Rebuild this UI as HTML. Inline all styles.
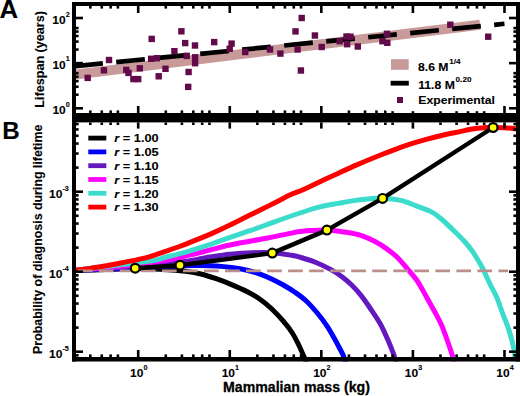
<!DOCTYPE html><html><head><meta charset="utf-8"><style>html,body{margin:0;padding:0;background:#fff;}body{width:520px;height:396px;overflow:hidden;position:relative;font-family:"Liberation Sans", sans-serif;}</style></head><body><svg width="520" height="396" viewBox="0 0 520 396" style="position:absolute;left:0;top:0">
<defs><clipPath id="ca"><rect x="76" y="6" width="440" height="107"/></clipPath><clipPath id="cb"><rect x="76" y="122" width="441" height="239.5"/></clipPath></defs>
<g clip-path="url(#ca)"><line x1="74.2" y1="74.7" x2="480" y2="24.67" stroke="#c99a9a" stroke-width="10"/>
<line x1="74.2" y1="66.22" x2="504.48" y2="23.78" stroke="#000" stroke-width="4.7" stroke-dasharray="28.8 13.4"/>
<rect x="84.5" y="74.7" width="6.4" height="6.4" fill="#620a4a"/>
<rect x="100.7" y="67.1" width="6.4" height="6.4" fill="#620a4a"/>
<rect x="105.8" y="56.8" width="6.4" height="6.4" fill="#620a4a"/>
<rect x="123.1" y="66.7" width="6.4" height="6.4" fill="#620a4a"/>
<rect x="125.3" y="69.7" width="6.4" height="6.4" fill="#620a4a"/>
<rect x="130.2" y="75.9" width="6.4" height="6.4" fill="#620a4a"/>
<rect x="135" y="75.9" width="6.4" height="6.4" fill="#620a4a"/>
<rect x="136.6" y="65.1" width="6.4" height="6.4" fill="#620a4a"/>
<rect x="148.5" y="35.7" width="6.4" height="6.4" fill="#620a4a"/>
<rect x="148" y="55.6" width="6.4" height="6.4" fill="#620a4a"/>
<rect x="153.6" y="55" width="6.4" height="6.4" fill="#620a4a"/>
<rect x="155.5" y="73.1" width="6.4" height="6.4" fill="#620a4a"/>
<rect x="162.3" y="65.6" width="6.4" height="6.4" fill="#620a4a"/>
<rect x="171.2" y="48" width="6.4" height="6.4" fill="#620a4a"/>
<rect x="178.2" y="28.1" width="6.4" height="6.4" fill="#620a4a"/>
<rect x="182" y="39.9" width="6.4" height="6.4" fill="#620a4a"/>
<rect x="183.5" y="52.7" width="6.4" height="6.4" fill="#620a4a"/>
<rect x="185.4" y="68.8" width="6.4" height="6.4" fill="#620a4a"/>
<rect x="185" y="83.7" width="6.4" height="6.4" fill="#620a4a"/>
<rect x="191.8" y="42.3" width="6.4" height="6.4" fill="#620a4a"/>
<rect x="191.9" y="54.1" width="6.4" height="6.4" fill="#620a4a"/>
<rect x="191.9" y="60" width="6.4" height="6.4" fill="#620a4a"/>
<rect x="211" y="38.9" width="6.4" height="6.4" fill="#620a4a"/>
<rect x="228.4" y="40.4" width="6.4" height="6.4" fill="#620a4a"/>
<rect x="226.5" y="45.6" width="6.4" height="6.4" fill="#620a4a"/>
<rect x="242" y="48.8" width="6.4" height="6.4" fill="#620a4a"/>
<rect x="266.8" y="46.3" width="6.4" height="6.4" fill="#620a4a"/>
<rect x="277.2" y="50.4" width="6.4" height="6.4" fill="#620a4a"/>
<rect x="292.3" y="28.2" width="6.4" height="6.4" fill="#620a4a"/>
<rect x="294.4" y="46.3" width="6.4" height="6.4" fill="#620a4a"/>
<rect x="297.7" y="67.3" width="6.4" height="6.4" fill="#620a4a"/>
<rect x="298.5" y="14.8" width="6.4" height="6.4" fill="#620a4a"/>
<rect x="311.7" y="32.3" width="6.4" height="6.4" fill="#620a4a"/>
<rect x="318.5" y="43.8" width="6.4" height="6.4" fill="#620a4a"/>
<rect x="336.5" y="38" width="6.4" height="6.4" fill="#620a4a"/>
<rect x="343.3" y="33.3" width="6.4" height="6.4" fill="#620a4a"/>
<rect x="347.3" y="33.5" width="6.4" height="6.4" fill="#620a4a"/>
<rect x="343.9" y="41" width="6.4" height="6.4" fill="#620a4a"/>
<rect x="354.6" y="43.3" width="6.4" height="6.4" fill="#620a4a"/>
<rect x="379.2" y="38" width="6.4" height="6.4" fill="#620a4a"/>
<rect x="383.8" y="30.6" width="6.4" height="6.4" fill="#620a4a"/>
<rect x="384.1" y="39.6" width="6.4" height="6.4" fill="#620a4a"/>
<rect x="447.1" y="21.5" width="6.4" height="6.4" fill="#620a4a"/>
<rect x="485" y="33.5" width="6.4" height="6.4" fill="#620a4a"/>
</g>
<g clip-path="url(#cb)">
<path d="M70,270.5 C75,270.38 91.67,270.05 100,269.8 C108.33,269.55 114.13,269.23 120,269 C125.87,268.77 128.53,268.37 135.2,268.4 C141.87,268.43 151.63,268.73 160,269.2 C168.37,269.67 178.6,270.4 185.4,271.2 C192.2,272 195.67,272.75 200.8,274 C205.93,275.25 211.08,276.93 216.2,278.7 C221.32,280.47 226.38,282.47 231.5,284.6 C236.62,286.73 242.15,289.07 246.9,291.5 C251.65,293.93 255.88,296.32 260,299.2 C264.12,302.08 267.72,305.13 271.6,308.8 C275.48,312.47 279.9,317.25 283.3,321.2 C286.7,325.15 289.47,328.62 292,332.5 C294.53,336.38 296.47,340.38 298.5,344.5 C300.53,348.62 302.87,354.12 304.2,357.2 C305.53,360.28 306.12,362.03 306.5,363" fill="none" stroke="#000000" stroke-width="5" stroke-linejoin="round"/>
<path d="M70,270.5 C76.67,270.25 99.17,269.45 110,269 C120.83,268.55 126.67,268.22 135,267.8 C143.33,267.38 152.5,266.85 160,266.5 C167.5,266.15 173.2,265.85 180,265.7 C186.8,265.55 194.77,265.53 200.8,265.6 C206.83,265.67 211.08,265.77 216.2,266.1 C221.32,266.43 226.38,266.92 231.5,267.6 C236.62,268.28 242.15,269.12 246.9,270.2 C251.65,271.28 255.88,272.63 260,274.1 C264.12,275.57 267.72,277.18 271.6,279 C275.48,280.82 279.42,282.8 283.3,285 C287.18,287.2 291.03,289.5 294.9,292.2 C298.77,294.9 302.63,297.57 306.5,301.2 C310.37,304.83 314.62,309.77 318.1,314 C321.58,318.23 324.68,322.5 327.4,326.6 C330.12,330.7 332.3,334.87 334.4,338.6 C336.5,342.33 338.48,346.1 340,349 C341.52,351.9 342.58,353.67 343.5,356 C344.42,358.33 345.17,361.83 345.5,363" fill="none" stroke="#0000ff" stroke-width="5" stroke-linejoin="round"/>
<path d="M70,270.5 C76.67,270.12 99,268.98 110,268.2 C121,267.42 126.83,266.62 136,265.8 C145.17,264.98 157.67,263.93 165,263.3 C172.33,262.67 174.8,262.62 180,262 C185.2,261.38 190.95,260.47 196.2,259.6 C201.45,258.73 205.87,257.7 211.5,256.8 C217.13,255.9 223.08,254.88 230,254.2 C236.92,253.52 245.95,252.93 253,252.7 C260.05,252.47 265.88,252.37 272.3,252.8 C278.72,253.23 286.88,254.57 291.5,255.3 C296.12,256.03 296.02,256.05 300,257.2 C303.98,258.35 310.32,260.17 315.4,262.2 C320.48,264.23 326.18,267.05 330.5,269.4 C334.82,271.75 337.82,273.73 341.3,276.3 C344.78,278.87 348.08,281.58 351.4,284.8 C354.72,288.02 357.98,291.57 361.2,295.6 C364.42,299.63 367.53,304.32 370.7,309 C373.87,313.68 377.45,318.82 380.2,323.7 C382.95,328.58 384.88,333 387.2,338.3 C389.52,343.6 392.63,351.38 394.1,355.5 C395.57,359.62 395.68,361.75 396,363" fill="none" stroke="#6418c0" stroke-width="5" stroke-linejoin="round"/>
<path d="M70,270.5 C76.67,269.97 96.67,268.6 110,267.3 C123.33,266 140.77,263.88 150,262.7 C159.23,261.52 160.27,261.1 165.4,260.2 C170.53,259.3 175.67,258.42 180.8,257.3 C185.93,256.18 191.08,254.78 196.2,253.5 C201.32,252.22 205.87,251.02 211.5,249.6 C217.13,248.18 223.58,246.4 230,245 C236.42,243.6 243.33,242.45 250,241.2 C256.67,239.95 263.33,238.8 270,237.5 C276.67,236.2 285,234.38 290,233.4 C295,232.42 296.67,232.07 300,231.6 C303.33,231.13 305.52,230.87 310,230.6 C314.48,230.33 320.87,229.72 326.9,230 C332.93,230.28 340.43,231.37 346.2,232.3 C351.97,233.23 356.7,234.07 361.5,235.6 C366.3,237.13 370.85,239.33 375,241.5 C379.15,243.67 382.62,245.9 386.4,248.6 C390.18,251.3 394.17,254.28 397.7,257.7 C401.23,261.12 404.38,265.3 407.6,269.1 C410.82,272.9 413.9,275.95 417,280.5 C420.1,285.05 423.2,291.1 426.2,296.4 C429.2,301.7 432.45,307.53 435,312.3 C437.55,317.07 439.65,320.88 441.5,325 C443.35,329.12 444.33,332.05 446.1,337 C447.87,341.95 450.78,350.37 452.1,354.7 C453.42,359.03 453.68,361.62 454,363" fill="none" stroke="#ff00ff" stroke-width="5" stroke-linejoin="round"/>
<path d="M70,271 C76.67,270.17 96.67,267.65 110,266 C123.33,264.35 140.77,262.55 150,261.1 C159.23,259.65 160.27,258.58 165.4,257.3 C170.53,256.02 175.67,254.82 180.8,253.4 C185.93,251.98 191.08,250.36 196.2,248.8 C201.32,247.24 205.87,245.95 211.5,244.06 C217.13,242.16 223.58,239.65 230,237.43 C236.42,235.2 242.8,233.25 250,230.73 C257.2,228.21 264.87,225.26 273.2,222.3 C281.53,219.34 292.38,215.53 300,213 C307.62,210.47 312.58,208.7 318.9,207.1 C325.22,205.5 331.58,204.56 337.9,203.4 C344.22,202.24 350.48,200.99 356.8,200.13 C363.12,199.26 371.5,198.55 375.8,198.21 C380.1,197.87 378.43,197.73 382.6,198.1 C386.77,198.47 395.2,199.12 400.8,200.4 C406.4,201.68 411.08,203.88 416.2,205.8 C421.32,207.72 427.4,209.78 431.5,211.9 C435.6,214.02 436.85,215.15 440.8,218.5 C444.75,221.85 451.17,228.08 455.2,232 C459.23,235.92 462.17,238.83 465,242 C467.83,245.17 470.2,248.25 472.2,251 C474.2,253.75 475.42,255.92 477,258.5 C478.58,261.08 480.12,263.5 481.7,266.5 C483.28,269.5 485.03,273.42 486.5,276.5 C487.97,279.58 488.82,281.57 490.5,285 C492.18,288.43 494.58,292.38 496.6,297.1 C498.62,301.82 500.58,307.92 502.6,313.3 C504.62,318.68 507.02,324.35 508.7,329.4 C510.38,334.45 511.7,339.55 512.7,343.6 C513.7,347.65 514.23,350.47 514.7,353.7 C515.17,356.93 515.37,361.45 515.5,363" fill="none" stroke="#3cdccc" stroke-width="5" stroke-linejoin="round"/>
<path d="M70,271.5 C71,271.32 72.43,270.97 76,270.4 C79.57,269.83 86.27,268.88 91.4,268.1 C96.53,267.32 101.67,266.6 106.8,265.7 C111.93,264.8 117.08,263.71 122.2,262.69 C127.32,261.66 132.87,260.59 137.5,259.57 C142.13,258.55 145.35,257.91 150,256.56 C154.65,255.2 160.27,253.19 165.4,251.44 C170.53,249.68 175.67,247.94 180.8,246.02 C185.93,244.1 191.08,241.97 196.2,239.9 C201.32,237.84 205.87,236.09 211.5,233.61 C217.13,231.14 223.58,228.16 230,225.07 C236.42,221.99 243.3,218.42 250,215.09 C256.7,211.77 263.47,208.51 270.2,205.13 C276.93,201.75 285.43,197.16 290.4,194.8 C295.37,192.45 295.25,193.09 300,191 C304.75,188.91 312.58,185.18 318.9,182.26 C325.22,179.33 331.58,176.33 337.9,173.44 C344.22,170.54 349.78,167.93 356.8,164.9 C363.82,161.87 373.57,157.86 380,155.27 C386.43,152.67 390.27,151.2 395.4,149.32 C400.53,147.44 405.67,145.63 410.8,143.97 C415.93,142.31 421.08,140.79 426.2,139.37 C431.32,137.95 435.87,136.73 441.5,135.44 C447.13,134.15 455.12,132.62 460,131.6 C464.88,130.58 466.43,129.98 470.8,129.31 C475.17,128.65 482.48,127.93 486.2,127.61 C489.92,127.29 490.03,127.39 493.1,127.4 C496.17,127.42 500.45,127.43 504.6,127.7 C508.75,127.97 515.77,128.78 518,129" fill="none" stroke="#ff0000" stroke-width="5" stroke-linejoin="round"/>
<line x1="56.8" y1="270.9" x2="508" y2="270.9" stroke="#bb8f8a" stroke-width="2.6" stroke-dasharray="14.7 6.33"/>
<path d="M135.2,268.2 L180,265.2 L272.3,253.1 L326.9,230.1 L382.6,198.4 L493.1,127.5" fill="none" stroke="#000" stroke-width="4.4" stroke-linejoin="round"/>
<circle cx="135.2" cy="268.2" r="4.4" fill="#ffff00" stroke="#000" stroke-width="2.2"/>
<circle cx="180" cy="265.2" r="4.4" fill="#ffff00" stroke="#000" stroke-width="2.2"/>
<circle cx="272.3" cy="253.1" r="4.4" fill="#ffff00" stroke="#000" stroke-width="2.2"/>
<circle cx="326.9" cy="230.1" r="4.4" fill="#ffff00" stroke="#000" stroke-width="2.2"/>
<circle cx="382.6" cy="198.4" r="4.4" fill="#ffff00" stroke="#000" stroke-width="2.2"/>
<circle cx="493.1" cy="127.5" r="4.4" fill="#ffff00" stroke="#000" stroke-width="2.2"/>
</g>
<rect x="72" y="2" width="4" height="359.5" fill="#000"/>
<rect x="516" y="2" width="4" height="359.5" fill="#000"/>
<rect x="72" y="2" width="448" height="4" fill="#000"/>
<rect x="72" y="113" width="448" height="9.4" fill="#000"/>
<rect x="72" y="357" width="448" height="4.5" fill="#000"/>
<rect x="89.02" y="6" width="2.6" height="2.6" fill="#000"/>
<rect x="100.46" y="6" width="2.6" height="2.6" fill="#000"/>
<rect x="109.33" y="6" width="2.6" height="2.6" fill="#000"/>
<rect x="116.59" y="6" width="2.6" height="2.6" fill="#000"/>
<rect x="136.9" y="6" width="2.6" height="7" fill="#000"/>
<rect x="164.47" y="6" width="2.6" height="2.6" fill="#000"/>
<rect x="180.59" y="6" width="2.6" height="2.6" fill="#000"/>
<rect x="192.03" y="6" width="2.6" height="2.6" fill="#000"/>
<rect x="200.9" y="6" width="2.6" height="2.6" fill="#000"/>
<rect x="208.16" y="6" width="2.6" height="2.6" fill="#000"/>
<rect x="228.47" y="6" width="2.6" height="7" fill="#000"/>
<rect x="256.04" y="6" width="2.6" height="2.6" fill="#000"/>
<rect x="272.16" y="6" width="2.6" height="2.6" fill="#000"/>
<rect x="283.6" y="6" width="2.6" height="2.6" fill="#000"/>
<rect x="292.47" y="6" width="2.6" height="2.6" fill="#000"/>
<rect x="299.73" y="6" width="2.6" height="2.6" fill="#000"/>
<rect x="320.04" y="6" width="2.6" height="7" fill="#000"/>
<rect x="347.61" y="6" width="2.6" height="2.6" fill="#000"/>
<rect x="363.73" y="6" width="2.6" height="2.6" fill="#000"/>
<rect x="375.17" y="6" width="2.6" height="2.6" fill="#000"/>
<rect x="384.04" y="6" width="2.6" height="2.6" fill="#000"/>
<rect x="391.3" y="6" width="2.6" height="2.6" fill="#000"/>
<rect x="411.61" y="6" width="2.6" height="7" fill="#000"/>
<rect x="439.18" y="6" width="2.6" height="2.6" fill="#000"/>
<rect x="455.3" y="6" width="2.6" height="2.6" fill="#000"/>
<rect x="466.74" y="6" width="2.6" height="2.6" fill="#000"/>
<rect x="475.61" y="6" width="2.6" height="2.6" fill="#000"/>
<rect x="482.87" y="6" width="2.6" height="2.6" fill="#000"/>
<rect x="503.18" y="6" width="2.6" height="7" fill="#000"/>
<rect x="89.02" y="110.4" width="2.6" height="2.6" fill="#000"/>
<rect x="100.46" y="110.4" width="2.6" height="2.6" fill="#000"/>
<rect x="109.33" y="110.4" width="2.6" height="2.6" fill="#000"/>
<rect x="116.59" y="110.4" width="2.6" height="2.6" fill="#000"/>
<rect x="136.9" y="106" width="2.6" height="7" fill="#000"/>
<rect x="164.47" y="110.4" width="2.6" height="2.6" fill="#000"/>
<rect x="180.59" y="110.4" width="2.6" height="2.6" fill="#000"/>
<rect x="192.03" y="110.4" width="2.6" height="2.6" fill="#000"/>
<rect x="200.9" y="110.4" width="2.6" height="2.6" fill="#000"/>
<rect x="208.16" y="110.4" width="2.6" height="2.6" fill="#000"/>
<rect x="228.47" y="106" width="2.6" height="7" fill="#000"/>
<rect x="256.04" y="110.4" width="2.6" height="2.6" fill="#000"/>
<rect x="272.16" y="110.4" width="2.6" height="2.6" fill="#000"/>
<rect x="283.6" y="110.4" width="2.6" height="2.6" fill="#000"/>
<rect x="292.47" y="110.4" width="2.6" height="2.6" fill="#000"/>
<rect x="299.73" y="110.4" width="2.6" height="2.6" fill="#000"/>
<rect x="320.04" y="106" width="2.6" height="7" fill="#000"/>
<rect x="347.61" y="110.4" width="2.6" height="2.6" fill="#000"/>
<rect x="363.73" y="110.4" width="2.6" height="2.6" fill="#000"/>
<rect x="375.17" y="110.4" width="2.6" height="2.6" fill="#000"/>
<rect x="384.04" y="110.4" width="2.6" height="2.6" fill="#000"/>
<rect x="391.3" y="110.4" width="2.6" height="2.6" fill="#000"/>
<rect x="411.61" y="106" width="2.6" height="7" fill="#000"/>
<rect x="439.18" y="110.4" width="2.6" height="2.6" fill="#000"/>
<rect x="455.3" y="110.4" width="2.6" height="2.6" fill="#000"/>
<rect x="466.74" y="110.4" width="2.6" height="2.6" fill="#000"/>
<rect x="475.61" y="110.4" width="2.6" height="2.6" fill="#000"/>
<rect x="482.87" y="110.4" width="2.6" height="2.6" fill="#000"/>
<rect x="503.18" y="106" width="2.6" height="7" fill="#000"/>
<rect x="89.02" y="122.4" width="2.6" height="2.6" fill="#000"/>
<rect x="100.46" y="122.4" width="2.6" height="2.6" fill="#000"/>
<rect x="109.33" y="122.4" width="2.6" height="2.6" fill="#000"/>
<rect x="116.59" y="122.4" width="2.6" height="2.6" fill="#000"/>
<rect x="136.9" y="122.4" width="2.6" height="6.2" fill="#000"/>
<rect x="164.47" y="122.4" width="2.6" height="2.6" fill="#000"/>
<rect x="180.59" y="122.4" width="2.6" height="2.6" fill="#000"/>
<rect x="192.03" y="122.4" width="2.6" height="2.6" fill="#000"/>
<rect x="200.9" y="122.4" width="2.6" height="2.6" fill="#000"/>
<rect x="208.16" y="122.4" width="2.6" height="2.6" fill="#000"/>
<rect x="228.47" y="122.4" width="2.6" height="6.2" fill="#000"/>
<rect x="256.04" y="122.4" width="2.6" height="2.6" fill="#000"/>
<rect x="272.16" y="122.4" width="2.6" height="2.6" fill="#000"/>
<rect x="283.6" y="122.4" width="2.6" height="2.6" fill="#000"/>
<rect x="292.47" y="122.4" width="2.6" height="2.6" fill="#000"/>
<rect x="299.73" y="122.4" width="2.6" height="2.6" fill="#000"/>
<rect x="320.04" y="122.4" width="2.6" height="6.2" fill="#000"/>
<rect x="347.61" y="122.4" width="2.6" height="2.6" fill="#000"/>
<rect x="363.73" y="122.4" width="2.6" height="2.6" fill="#000"/>
<rect x="375.17" y="122.4" width="2.6" height="2.6" fill="#000"/>
<rect x="384.04" y="122.4" width="2.6" height="2.6" fill="#000"/>
<rect x="391.3" y="122.4" width="2.6" height="2.6" fill="#000"/>
<rect x="411.61" y="122.4" width="2.6" height="6.2" fill="#000"/>
<rect x="439.18" y="122.4" width="2.6" height="2.6" fill="#000"/>
<rect x="455.3" y="122.4" width="2.6" height="2.6" fill="#000"/>
<rect x="466.74" y="122.4" width="2.6" height="2.6" fill="#000"/>
<rect x="475.61" y="122.4" width="2.6" height="2.6" fill="#000"/>
<rect x="482.87" y="122.4" width="2.6" height="2.6" fill="#000"/>
<rect x="503.18" y="122.4" width="2.6" height="6.2" fill="#000"/>
<rect x="89.02" y="354.4" width="2.6" height="2.6" fill="#000"/>
<rect x="100.46" y="354.4" width="2.6" height="2.6" fill="#000"/>
<rect x="109.33" y="354.4" width="2.6" height="2.6" fill="#000"/>
<rect x="116.59" y="354.4" width="2.6" height="2.6" fill="#000"/>
<rect x="136.9" y="350" width="2.6" height="7" fill="#000"/>
<rect x="164.47" y="354.4" width="2.6" height="2.6" fill="#000"/>
<rect x="180.59" y="354.4" width="2.6" height="2.6" fill="#000"/>
<rect x="192.03" y="354.4" width="2.6" height="2.6" fill="#000"/>
<rect x="200.9" y="354.4" width="2.6" height="2.6" fill="#000"/>
<rect x="208.16" y="354.4" width="2.6" height="2.6" fill="#000"/>
<rect x="228.47" y="350" width="2.6" height="7" fill="#000"/>
<rect x="256.04" y="354.4" width="2.6" height="2.6" fill="#000"/>
<rect x="272.16" y="354.4" width="2.6" height="2.6" fill="#000"/>
<rect x="283.6" y="354.4" width="2.6" height="2.6" fill="#000"/>
<rect x="292.47" y="354.4" width="2.6" height="2.6" fill="#000"/>
<rect x="299.73" y="354.4" width="2.6" height="2.6" fill="#000"/>
<rect x="320.04" y="350" width="2.6" height="7" fill="#000"/>
<rect x="347.61" y="354.4" width="2.6" height="2.6" fill="#000"/>
<rect x="363.73" y="354.4" width="2.6" height="2.6" fill="#000"/>
<rect x="375.17" y="354.4" width="2.6" height="2.6" fill="#000"/>
<rect x="384.04" y="354.4" width="2.6" height="2.6" fill="#000"/>
<rect x="391.3" y="354.4" width="2.6" height="2.6" fill="#000"/>
<rect x="411.61" y="350" width="2.6" height="7" fill="#000"/>
<rect x="439.18" y="354.4" width="2.6" height="2.6" fill="#000"/>
<rect x="455.3" y="354.4" width="2.6" height="2.6" fill="#000"/>
<rect x="466.74" y="354.4" width="2.6" height="2.6" fill="#000"/>
<rect x="475.61" y="354.4" width="2.6" height="2.6" fill="#000"/>
<rect x="482.87" y="354.4" width="2.6" height="2.6" fill="#000"/>
<rect x="503.18" y="350" width="2.6" height="7" fill="#000"/>
<rect x="76" y="107" width="7" height="2.6" fill="#000"/>
<rect x="509" y="107" width="7" height="2.6" fill="#000"/>
<rect x="76" y="93.41" width="2.6" height="2.6" fill="#000"/>
<rect x="513.4" y="93.41" width="2.6" height="2.6" fill="#000"/>
<rect x="76" y="85.46" width="2.6" height="2.6" fill="#000"/>
<rect x="513.4" y="85.46" width="2.6" height="2.6" fill="#000"/>
<rect x="76" y="79.82" width="2.6" height="2.6" fill="#000"/>
<rect x="513.4" y="79.82" width="2.6" height="2.6" fill="#000"/>
<rect x="76" y="75.44" width="2.6" height="2.6" fill="#000"/>
<rect x="513.4" y="75.44" width="2.6" height="2.6" fill="#000"/>
<rect x="76" y="71.87" width="2.6" height="2.6" fill="#000"/>
<rect x="513.4" y="71.87" width="2.6" height="2.6" fill="#000"/>
<rect x="76" y="61.85" width="7" height="2.6" fill="#000"/>
<rect x="509" y="61.85" width="7" height="2.6" fill="#000"/>
<rect x="76" y="48.26" width="2.6" height="2.6" fill="#000"/>
<rect x="513.4" y="48.26" width="2.6" height="2.6" fill="#000"/>
<rect x="76" y="40.31" width="2.6" height="2.6" fill="#000"/>
<rect x="513.4" y="40.31" width="2.6" height="2.6" fill="#000"/>
<rect x="76" y="34.67" width="2.6" height="2.6" fill="#000"/>
<rect x="513.4" y="34.67" width="2.6" height="2.6" fill="#000"/>
<rect x="76" y="30.29" width="2.6" height="2.6" fill="#000"/>
<rect x="513.4" y="30.29" width="2.6" height="2.6" fill="#000"/>
<rect x="76" y="26.72" width="2.6" height="2.6" fill="#000"/>
<rect x="513.4" y="26.72" width="2.6" height="2.6" fill="#000"/>
<rect x="76" y="16.7" width="7" height="2.6" fill="#000"/>
<rect x="509" y="16.7" width="7" height="2.6" fill="#000"/>
<rect x="76" y="354.06" width="2.6" height="2.6" fill="#000"/>
<rect x="513.4" y="354.06" width="2.6" height="2.6" fill="#000"/>
<rect x="76" y="350.4" width="7" height="2.6" fill="#000"/>
<rect x="509" y="350.4" width="7" height="2.6" fill="#000"/>
<rect x="76" y="326.32" width="2.6" height="2.6" fill="#000"/>
<rect x="513.4" y="326.32" width="2.6" height="2.6" fill="#000"/>
<rect x="76" y="312.23" width="2.6" height="2.6" fill="#000"/>
<rect x="513.4" y="312.23" width="2.6" height="2.6" fill="#000"/>
<rect x="76" y="302.24" width="2.6" height="2.6" fill="#000"/>
<rect x="513.4" y="302.24" width="2.6" height="2.6" fill="#000"/>
<rect x="76" y="294.48" width="2.6" height="2.6" fill="#000"/>
<rect x="513.4" y="294.48" width="2.6" height="2.6" fill="#000"/>
<rect x="76" y="288.15" width="2.6" height="2.6" fill="#000"/>
<rect x="513.4" y="288.15" width="2.6" height="2.6" fill="#000"/>
<rect x="76" y="282.79" width="2.6" height="2.6" fill="#000"/>
<rect x="513.4" y="282.79" width="2.6" height="2.6" fill="#000"/>
<rect x="76" y="278.15" width="2.6" height="2.6" fill="#000"/>
<rect x="513.4" y="278.15" width="2.6" height="2.6" fill="#000"/>
<rect x="76" y="274.06" width="2.6" height="2.6" fill="#000"/>
<rect x="513.4" y="274.06" width="2.6" height="2.6" fill="#000"/>
<rect x="76" y="270.4" width="7" height="2.6" fill="#000"/>
<rect x="509" y="270.4" width="7" height="2.6" fill="#000"/>
<rect x="76" y="246.32" width="2.6" height="2.6" fill="#000"/>
<rect x="513.4" y="246.32" width="2.6" height="2.6" fill="#000"/>
<rect x="76" y="232.23" width="2.6" height="2.6" fill="#000"/>
<rect x="513.4" y="232.23" width="2.6" height="2.6" fill="#000"/>
<rect x="76" y="222.24" width="2.6" height="2.6" fill="#000"/>
<rect x="513.4" y="222.24" width="2.6" height="2.6" fill="#000"/>
<rect x="76" y="214.48" width="2.6" height="2.6" fill="#000"/>
<rect x="513.4" y="214.48" width="2.6" height="2.6" fill="#000"/>
<rect x="76" y="208.15" width="2.6" height="2.6" fill="#000"/>
<rect x="513.4" y="208.15" width="2.6" height="2.6" fill="#000"/>
<rect x="76" y="202.79" width="2.6" height="2.6" fill="#000"/>
<rect x="513.4" y="202.79" width="2.6" height="2.6" fill="#000"/>
<rect x="76" y="198.15" width="2.6" height="2.6" fill="#000"/>
<rect x="513.4" y="198.15" width="2.6" height="2.6" fill="#000"/>
<rect x="76" y="194.06" width="2.6" height="2.6" fill="#000"/>
<rect x="513.4" y="194.06" width="2.6" height="2.6" fill="#000"/>
<rect x="76" y="190.4" width="7" height="2.6" fill="#000"/>
<rect x="509" y="190.4" width="7" height="2.6" fill="#000"/>
<rect x="76" y="166.32" width="2.6" height="2.6" fill="#000"/>
<rect x="513.4" y="166.32" width="2.6" height="2.6" fill="#000"/>
<rect x="76" y="152.23" width="2.6" height="2.6" fill="#000"/>
<rect x="513.4" y="152.23" width="2.6" height="2.6" fill="#000"/>
<rect x="76" y="142.24" width="2.6" height="2.6" fill="#000"/>
<rect x="513.4" y="142.24" width="2.6" height="2.6" fill="#000"/>
<rect x="76" y="134.48" width="2.6" height="2.6" fill="#000"/>
<rect x="513.4" y="134.48" width="2.6" height="2.6" fill="#000"/>
<rect x="76" y="128.15" width="2.6" height="2.6" fill="#000"/>
<rect x="513.4" y="128.15" width="2.6" height="2.6" fill="#000"/>
<rect x="76" y="122.79" width="2.6" height="2.6" fill="#000"/>
<rect x="513.4" y="122.79" width="2.6" height="2.6" fill="#000"/>
<rect x="386" y="50" width="114" height="61.2" fill="#ffffff"/>
<rect x="391" y="59.2" width="17.7" height="10.6" fill="#c99a9a"/>
<rect x="390.6" y="80.8" width="18.2" height="4.8" fill="#000"/>
<rect x="397" y="97" width="6" height="6" fill="#620a4a"/>
<rect x="88.3" y="135.7" width="18" height="4.8" fill="#000000"/>
<rect x="88.3" y="149.5" width="18" height="4.8" fill="#0000ff"/>
<rect x="88.3" y="163.3" width="18" height="4.8" fill="#6418c0"/>
<rect x="88.3" y="177.1" width="18" height="4.8" fill="#ff00ff"/>
<rect x="88.3" y="190.9" width="18" height="4.8" fill="#3cdccc"/>
<rect x="88.3" y="204.7" width="18" height="4.8" fill="#ff0000"/>
</svg>
<svg width="520" height="396" viewBox="0 0 520 396" style="position:absolute;left:0;top:0" font-family="Liberation Sans, sans-serif" font-weight="bold" fill="#000" stroke="#000" stroke-width="0.1">
<text x="-0.4" y="18" font-size="25.0" text-anchor="start" style="" transform="translate(-0.4 18) scale(1.03 1) translate(0.4 -18)">A</text>
<text x="2.2" y="138.9" font-size="24.2" text-anchor="start" style="">B</text>
<text x="418" y="70.6" font-size="11.3" text-anchor="start" style="" transform="translate(418 70.6) scale(1.08 1) translate(-418 -70.6)">8.6 M</text>
<text x="449.3" y="63.8" font-size="7.4" text-anchor="start" style="" transform="translate(449.3 63.8) scale(1.1 1) translate(-449.3 -63.8)">1/4</text>
<text x="418.2" y="88.8" font-size="11.3" text-anchor="start" style="" transform="translate(418.2 88.8) scale(1.08 1) translate(-418.2 -88.8)">11.8 M</text>
<text x="455.6" y="82.3" font-size="7.4" text-anchor="start" style="" transform="translate(455.6 82.3) scale(1.1 1) translate(-455.6 -82.3)">0.20</text>
<text x="418.3" y="103.8" font-size="11.3" text-anchor="start" style="" transform="translate(418.3 103.8) scale(1.08 1) translate(-418.3 -103.8)">Experimental</text>
<text x="114.3" y="142.4" font-size="11.6" transform="translate(114.3 142.4) scale(1.1 1) translate(-114.3 -142.4)"><tspan style="font-style:italic">r</tspan> = 1.00</text>
<text x="114.3" y="156.2" font-size="11.6" transform="translate(114.3 156.2) scale(1.1 1) translate(-114.3 -156.2)"><tspan style="font-style:italic">r</tspan> = 1.05</text>
<text x="114.3" y="170" font-size="11.6" transform="translate(114.3 170) scale(1.1 1) translate(-114.3 -170)"><tspan style="font-style:italic">r</tspan> = 1.10</text>
<text x="114.3" y="183.8" font-size="11.6" transform="translate(114.3 183.8) scale(1.1 1) translate(-114.3 -183.8)"><tspan style="font-style:italic">r</tspan> = 1.15</text>
<text x="114.3" y="197.6" font-size="11.6" transform="translate(114.3 197.6) scale(1.1 1) translate(-114.3 -197.6)"><tspan style="font-style:italic">r</tspan> = 1.20</text>
<text x="114.3" y="211.4" font-size="11.6" transform="translate(114.3 211.4) scale(1.1 1) translate(-114.3 -211.4)"><tspan style="font-style:italic">r</tspan> = 1.30</text>
<text x="52.28" y="23.9" font-size="11.3" text-anchor="start" style="" transform="translate(52.28 23.9) scale(1.06 1) translate(-52.28 -23.9)">10</text>
<text x="65.63" y="16.5" font-size="7.2" text-anchor="start" style="">2</text>
<text x="52.48" y="68.8" font-size="11.3" text-anchor="start" style="" transform="translate(52.48 68.8) scale(1.06 1) translate(-52.48 -68.8)">10</text>
<text x="65.83" y="61.4" font-size="7.2" text-anchor="start" style="">1</text>
<text x="52.48" y="114.2" font-size="11.3" text-anchor="start" style="" transform="translate(52.48 114.2) scale(1.06 1) translate(-52.48 -114.2)">10</text>
<text x="65.83" y="106.8" font-size="7.2" text-anchor="start" style="">0</text>
<text x="49.08" y="198.3" font-size="11.3" text-anchor="start" style="" transform="translate(49.08 198.3) scale(1.06 1) translate(-49.08 -198.3)">10</text>
<text x="62.43" y="190.9" font-size="7.2" text-anchor="start" style="">-3</text>
<text x="49.08" y="278.3" font-size="11.3" text-anchor="start" style="" transform="translate(49.08 278.3) scale(1.06 1) translate(-49.08 -278.3)">10</text>
<text x="62.43" y="270.9" font-size="7.2" text-anchor="start" style="">-4</text>
<text x="49.08" y="358.3" font-size="11.3" text-anchor="start" style="" transform="translate(49.08 358.3) scale(1.06 1) translate(-49.08 -358.3)">10</text>
<text x="62.43" y="350.9" font-size="7.2" text-anchor="start" style="">-5</text>
<text x="130.09" y="377.4" font-size="11.3" text-anchor="start" style="" transform="translate(130.09 377.4) scale(1.06 1) translate(-130.09 -377.4)">10</text>
<text x="143.44" y="370" font-size="7.2" text-anchor="start" style="">0</text>
<text x="221.66" y="377.4" font-size="11.3" text-anchor="start" style="" transform="translate(221.66 377.4) scale(1.06 1) translate(-221.66 -377.4)">10</text>
<text x="235.01" y="370" font-size="7.2" text-anchor="start" style="">1</text>
<text x="313.23" y="377.4" font-size="11.3" text-anchor="start" style="" transform="translate(313.23 377.4) scale(1.06 1) translate(-313.23 -377.4)">10</text>
<text x="326.58" y="370" font-size="7.2" text-anchor="start" style="">2</text>
<text x="404.8" y="377.4" font-size="11.3" text-anchor="start" style="" transform="translate(404.8 377.4) scale(1.06 1) translate(-404.8 -377.4)">10</text>
<text x="418.15" y="370" font-size="7.2" text-anchor="start" style="">3</text>
<text x="496.37" y="377.4" font-size="11.3" text-anchor="start" style="" transform="translate(496.37 377.4) scale(1.06 1) translate(-496.37 -377.4)">10</text>
<text x="509.72" y="370" font-size="7.2" text-anchor="start" style="">4</text>
<text x="223.02" y="391.6" font-size="14.0" text-anchor="start" style="stroke-width:0.3px;" transform="translate(223.02 391.6) scale(1.01 1) translate(-223.02 -391.6)">Mammalian mass (kg)</text>
<text x="43.8" y="107.7" font-size="12.6" text-anchor="start" style="" transform="rotate(-90 43.8 107.7)">Lifespan (years)</text>
<text x="42.1" y="353.9" font-size="12.4" text-anchor="start" style="" transform="rotate(-90 42.1 353.9)">Probability of diagnosis during lifetime</text>
</svg></body></html>
